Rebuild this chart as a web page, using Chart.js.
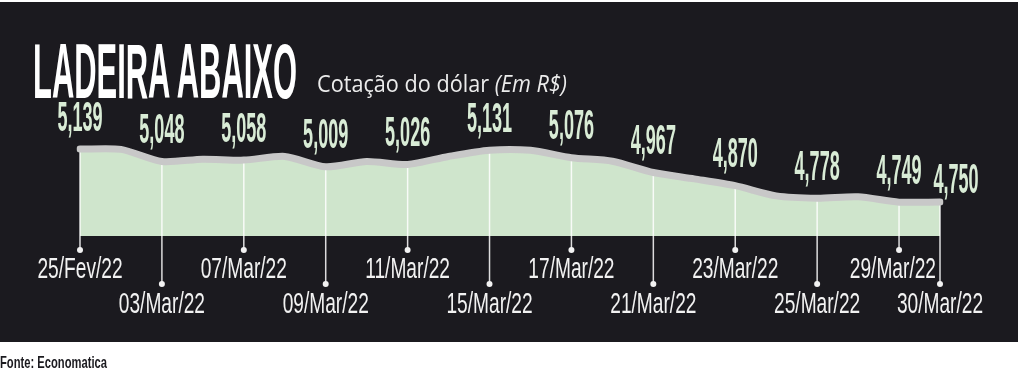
<!DOCTYPE html>
<html>
<head>
<meta charset="utf-8">
<title>Ladeira abaixo</title>
<script src="https://cdn.jsdelivr.net/npm/chart.js@4.4.1/dist/chart.umd.min.js"></script>
<style>
  body { margin: 0; width: 1024px; height: 375px; background: #fff; position: relative; overflow: hidden; }
  #panel { position: absolute; left: 0; top: 2px; width: 1018px; height: 340px; background: #1b1a1f; }
  #chart { position: absolute; left: 0; top: 0; }
  .fit { position: absolute; white-space: nowrap; line-height: 1; transform-origin: 0 0; }
  #title { left: 33px; top: 27px; font: bold 77px 'Liberation Sans', sans-serif; color: #fff; }
  #subtitle { left: 317px; top: 66px; font: 24px 'Open Sans', sans-serif; color: #ececec; }
  #subtitle i { font-style: italic; }
  #source { left: 0; top: 353px; font: bold 17px 'Liberation Sans', sans-serif; color: #1b1a1f; }
</style>
</head>
<body>
<div id="panel"></div>
<canvas id="chart" width="1024" height="375"></canvas>
<div id="title" class="fit" data-w="264">LADEIRA ABAIXO</div>
<div id="subtitle" class="fit" data-w="250">Cotação do dólar <i>(Em R$)</i></div>
<div id="source" class="fit" data-w="107">Fonte: Economatica</div>

<script>
// trading days, 25/Fev/22 to 30/Mar/22
const dates = ['25/Fev/22', '02/Mar/22', '03/Mar/22', '04/Mar/22', '07/Mar/22', '08/Mar/22',
    '09/Mar/22', '10/Mar/22', '11/Mar/22', '14/Mar/22', '15/Mar/22', '16/Mar/22', '17/Mar/22',
    '18/Mar/22', '21/Mar/22', '22/Mar/22', '23/Mar/22', '24/Mar/22', '25/Mar/22', '28/Mar/22',
    '29/Mar/22', '30/Mar/22'];
// dollar quote in R$ (unlabelled days)
const quotes = [5.139, 5.137, 5.048, 5.065, 5.058, 5.085, 5.009, 5.048, 5.026, 5.085, 5.131,
    5.130, 5.076, 5.050, 4.967, 4.920, 4.870, 4.795, 4.778, 4.788, 4.749, 4.750];
// dates that carry a tick and a value label
const tickLabels = ['25/Fev/22', '03/Mar/22', '07/Mar/22', '09/Mar/22', '11/Mar/22', '15/Mar/22',
    '17/Mar/22', '21/Mar/22', '23/Mar/22', '25/Mar/22', '29/Mar/22', '30/Mar/22'];
const valueLabels = ['5,139', '5,048', '5,058', '5,009', '5,026', '5,131', '5,076', '4,967',
    '4,870', '4,778', '4,749', '4,750'];

// squeeze text horizontally, the original uses a very condensed face
function condensedText(ctx, text, x, y, sx) {
    ctx.save();
    ctx.translate(x, y);
    ctx.scale(sx, 1);
    ctx.fillText(text, 0, 0);
    ctx.restore();
}

const tickMarks = {
    id: 'tickMarks',
    beforeDatasetsDraw(chart) {
        const ctx = chart.ctx;
        const x = chart.scales.x, y = chart.scales.y;
        const bottom = chart.chartArea.bottom;
        ctx.save();
        tickLabels.forEach(function (d, k) {
            const i = dates.indexOf(d);
            const px = x.getPixelForValue(i);
            const py = y.getPixelForValue(quotes[i]);
            const dotY = bottom + (k % 2 ? 48 : 14);
            ctx.strokeStyle = 'rgba(255,255,255,0.85)';
            ctx.lineWidth = 1.5;
            ctx.beginPath();
            ctx.moveTo(px, py);
            ctx.lineTo(px, dotY);
            ctx.stroke();
            ctx.fillStyle = '#f2f2f2';
            ctx.beginPath();
            ctx.arc(px, dotY, 3, 0, Math.PI * 2);
            ctx.fill();
        });
        ctx.restore();
    },
    afterDatasetsDraw(chart) {
        const ctx = chart.ctx;
        const x = chart.scales.x, y = chart.scales.y;
        const bottom = chart.chartArea.bottom;
        ctx.save();
        ctx.textAlign = 'center';
        ctx.textBaseline = 'alphabetic';

        // date labels, alternating rows
        ctx.font = '29px "Liberation Sans", sans-serif';
        ctx.fillStyle = '#f2f2f2';
        const tsx = 0.66;
        tickLabels.forEach(function (d, k) {
            const px = x.getPixelForValue(dates.indexOf(d));
            let cx = px;
            if (k < tickLabels.length - 1) {
                const nextX = x.getPixelForValue(dates.indexOf(tickLabels[k + 1]));
                const right = px + ctx.measureText(d).width * tsx / 2;
                if (right > nextX - 4) cx -= right - (nextX - 4);
            }
            condensedText(ctx, d, cx, bottom + (k % 2 ? 77 : 42), tsx);
        });

        // value labels above the line
        ctx.font = 'bold 42px "Liberation Sans", sans-serif';
        ctx.fillStyle = '#d9ecd6';
        ctx.textBaseline = 'middle';
        tickLabels.forEach(function (d, k) {
            const i = dates.indexOf(d);
            const px = x.getPixelForValue(i);
            const py = y.getPixelForValue(quotes[i]);
            const last = k === tickLabels.length - 1;
            condensedText(ctx, valueLabels[k], last ? px + 16 : px, last ? py - 21 : py - 30, 0.43);
        });
        ctx.restore();
    }
};

new Chart(document.getElementById('chart'), {
    type: 'line',
    data: {
        labels: dates,
        datasets: [{
            data: quotes,
            borderColor: '#c8c8c8',
            borderWidth: 7,
            borderCapStyle: 'round',
            borderJoinStyle: 'round',
            backgroundColor: '#cfe5cc',
            fill: 'start',
            tension: 0.25,
            pointRadius: 0
        }]
    },
    options: {
        responsive: false,
        animation: false,
        layout: { padding: { left: 80, right: 84, top: 100, bottom: 139 } },
        scales: {
            x: { display: false, offset: false },
            y: { display: false, min: 4.5, max: 5.5 }
        },
        plugins: {
            legend: { display: false },
            tooltip: { enabled: false },
            filler: { drawTime: 'beforeDatasetsDraw' }
        }
    },
    plugins: [tickMarks]
});

// fit the headline texts to the widths they have in the original
document.querySelectorAll('.fit').forEach(function (el) {
    const w = el.getBoundingClientRect().width;
    el.style.transform = 'scaleX(' + (el.dataset.w / w) + ')';
});
</script>
</body>
</html>
